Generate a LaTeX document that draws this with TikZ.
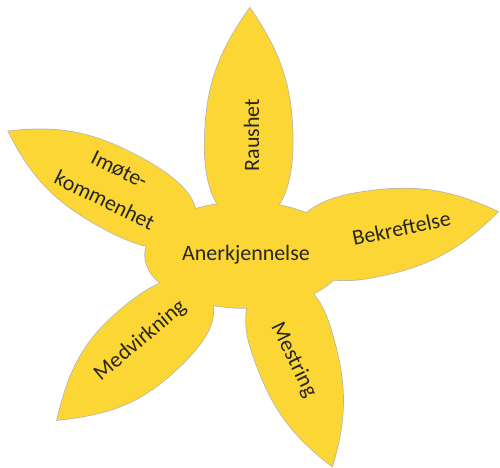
\documentclass[tikz,border=0pt]{standalone}
\usepackage{fontspec}
\setmainfont{Carlito}
\usepackage{tikz}
\definecolor{petalyellow}{HTML}{FCD634}
\tikzset{
  petal edge/.style={draw=black!30, line width=0.8pt},
  petal body/.style={fill=petalyellow},
  word/.style={font=\fontsize{12.5}{19.5}\selectfont, text=black!85, inner sep=0pt}
}
% heart of the flower and the five petals (base x/y, angle, length, widest at, half width)
\newcommand\flowerpath[1]{%
  \path[#1] (245,212) ellipse [x radius=2cm, y radius=1.06cm];
  \foreach \bx/\by/\ang/\len/\bulge/\half in {248/245/89.5/214/77/44, 292/219/10/209/70/43, 271/189/-72/198/60/41, 205/177/221.3/197/82/41, 192/236/151.5/209/80/40}
    \path[#1, shift={(\bx,\by)}, rotate=\ang] (0,0) to[out=90,in=180] (\bulge,\half) to[out=0,in=145] (\len,0) to[out=215,in=0] (\bulge,-\half) to[out=180,in=270] (0,0) -- cycle;
}

\begin{document}
\begin{tikzpicture}[x=0.02cm,y=0.02cm]
  \useasboundingbox (0,0) rectangle (500,467);
  % edge first, fill on top so only the outer rim stays
  \flowerpath{petal edge}
  \flowerpath{petal body}
  \node[word, anchor=base] (anerkjennelse) at (246,207) {Anerkjennelse};
  \node[word, anchor=base, rotate=90] (raushet) at (259,332) {Raushet};
  \node[word, anchor=base, rotate=12] (bekreftelse) at (403,231.5) {Bekreftelse};
  \node[word, anchor=base, rotate=-64] (mestring) at (288.5,104.6) {Mestring};
  \node[word, anchor=base, rotate=40] (medvirkning) at (144,122) {Medvirkning};
  \node[word, rotate=-26, align=center] (imotekommenhet) at (112,282) {Imøte-\\kommenhet};
\end{tikzpicture}
\end{document}
